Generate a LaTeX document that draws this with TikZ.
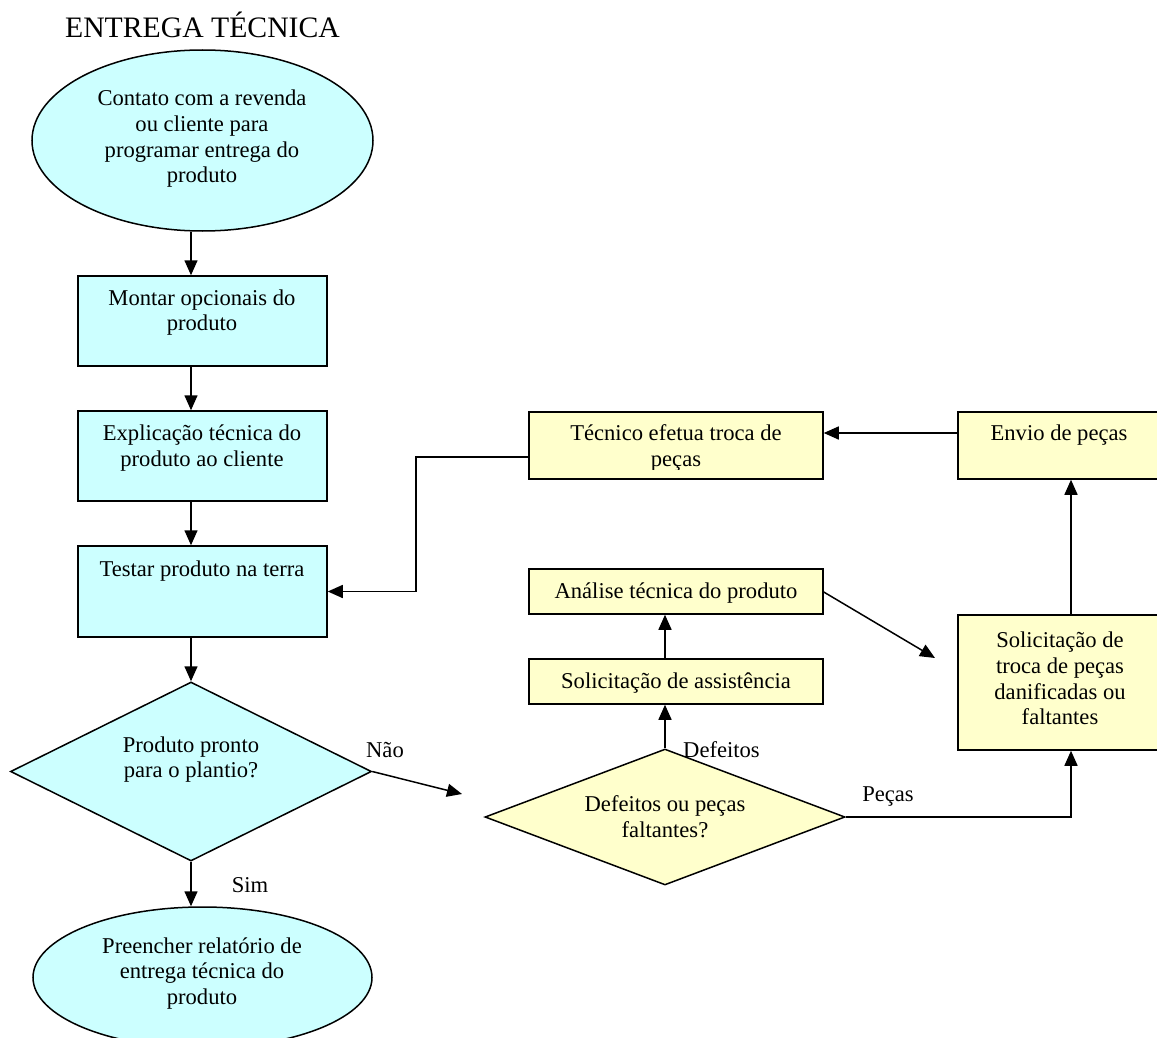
\documentclass[tikz,border=0pt]{standalone}
\usepackage{fontspec}
\setmainfont{Liberation Serif}
\usetikzlibrary{shapes.geometric,arrows.meta}
\definecolor{paleCyan}{RGB}{204,255,255}
\definecolor{paleYellow}{RGB}{255,255,204}
\tikzset{
  txt/.style={font=\fontsize{22.6}{25.7}\selectfont, align=center, inner sep=0pt},
  shapebase/.style={draw=black, line width=1.5pt, inner sep=0pt},
  cyanbox/.style={shapebase, rectangle, fill=paleCyan},
  yellowbox/.style={shapebase, rectangle, fill=paleYellow},
  cyanoval/.style={shapebase, ellipse, fill=paleCyan},
  cyandec/.style={shapebase, diamond, fill=paleCyan},
  yellowdec/.style={shapebase, diamond, fill=paleYellow},
  conn/.style={line width=1.5pt, -{Triangle[length=15pt,width=13pt]}},
}
\begin{document}
\begin{tikzpicture}[x=1pt,y=-1pt]
\useasboundingbox (0,0) rectangle (1157,1038);

% column and row guides for the connectors
\coordinate (col) at (191,0);
\coordinate (colR) at (1071,0);
\coordinate (rowTop) at (0,433);
\coordinate (jog) at (416,0);

% title
\node[font=\fontsize{29.7}{34}\selectfont, anchor=base, inner sep=0pt] (title) at (202.5,38) {ENTREGA TÉCNICA};

% left column: main flow
\node[cyanoval, minimum width=341pt, minimum height=181pt] (contato) at (202.5,140.5) {};
\node[txt] (contatoT) at (202,139) {Contato com a revenda\\ou cliente para\\programar entrega do\\produto};

\node[cyanbox, minimum width=249pt, minimum height=90pt] (montar) at (202.5,321) {};
\node[txt] (montarT) at (202,312.5) {Montar opcionais do\\produto};

\node[cyanbox, minimum width=249pt, minimum height=90pt] (explic) at (202.5,456) {};
\node[txt] (explicT) at (202,448) {Explicação técnica do\\produto ao cliente};

\node[cyanbox, minimum width=249pt, minimum height=91pt] (testar) at (202.5,591.5) {};
\node[txt, anchor=base] (testarT) at (202,576) {Testar produto na terra};

\node[cyandec, minimum width=361pt, minimum height=179pt] (pronto) at (191,771.5) {};
\node[txt] (prontoT) at (191,759.5) {Produto pronto\\para o plantio?};

\node[cyanoval, minimum width=339pt, minimum height=141pt] (relat) at (202.5,977.5) {};
\node[txt] (relatT) at (202,973.5) {Preencher relatório de\\entrega técnica do\\produto};

% right side: assistance loop
\node[yellowbox, minimum width=294pt, minimum height=67pt] (tecnico) at (676,445.5) {};
\begin{scope}
  \clip (529,412) rectangle (823,469);
  \node[txt] (tecnicoT) at (676,448) {Técnico efetua troca de\\peças};
\end{scope}

\node[yellowbox, minimum width=202pt, minimum height=67pt] (envio) at (1059,445.5) {};
\node[txt, anchor=base] (envioT) at (1059,440) {Envio de peças};

\node[yellowbox, minimum width=294pt, minimum height=45pt] (analise) at (676,591.5) {};
\node[txt, anchor=base] (analiseT) at (676,598) {Análise técnica do produto};

\node[yellowbox, minimum width=294pt, minimum height=45pt] (solic) at (676,681.5) {};
\node[txt, anchor=base] (solicT) at (676,688) {Solicitação de assistência};

\node[yellowdec, minimum width=360pt, minimum height=136pt] (defeitos) at (665,817) {};
\node[txt] (defeitosT) at (665,816.5) {Defeitos ou peças\\faltantes?};

\node[yellowbox, minimum width=202pt, minimum height=135pt] (troca) at (1059,682.5) {};
\node[txt] (trocaT) at (1060,678.5) {Solicitação de\\troca de peças\\danificadas ou\\faltantes};

% free ends of the two open arrows
\coordinate (naoEnd) at (462,794);
\coordinate (analiseEnd) at (935,658);

% connectors of the main flow
\draw[conn] (contato.south -| col) -- (montar.north -| col);
\draw[conn] (montar.south -| col) -- (explic.north -| col);
\draw[conn] (explic.south -| col) -- (testar.north -| col);
\draw[conn] (testar.south -| col) -- (pronto.north);
\draw[conn] (pronto.south) -- (relat.north -| col);
\draw[conn] (pronto.east) -- (naoEnd);

% connectors of the assistance loop
\draw[conn] (defeitos.north) -- (solic.south -| defeitos.north);
\draw[conn] (solic.north -| defeitos.north) -- (analise.south -| defeitos.north);
\draw[conn] ([yshift=-0.5pt]analise.east) -- (analiseEnd);
\draw[conn] (defeitos.east) -| (troca.south -| colR);
\draw[conn] (troca.north -| colR) -- (envio.south -| colR);
\draw[conn] (envio.west |- rowTop) -- (tecnico.east |- rowTop);
\draw[conn] ([yshift=-11.5pt]tecnico.west) -| (jog |- testar.east) -- (testar.east);

% branch labels
\node[txt, anchor=base] (nao) at (385,757) {Não};
\node[txt, anchor=base] (sim) at (250,892) {Sim};
\node[txt, anchor=base west] (defLbl) at (683,757) {Defeitos};
\node[txt, anchor=base] (pecas) at (888,801) {Peças};
\end{tikzpicture}
\end{document}
